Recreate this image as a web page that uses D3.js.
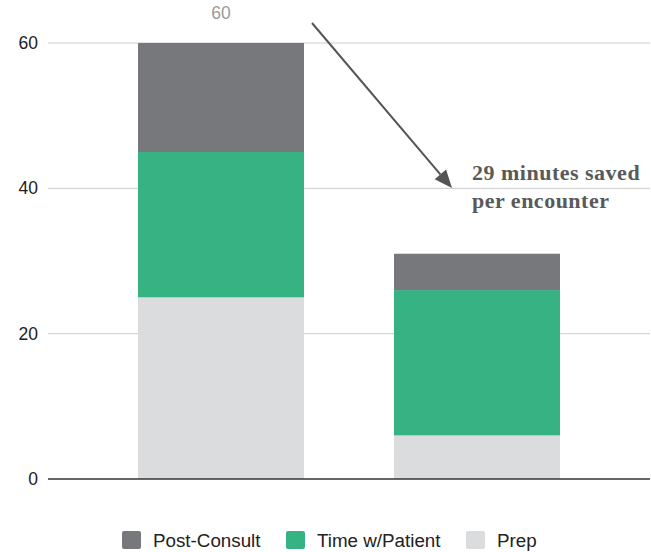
<!DOCTYPE html>
<html><head><meta charset="utf-8">
<script src="https://cdn.jsdelivr.net/npm/d3@7"></script>
<style>body{margin:0;background:#fff}svg{display:block}</style>
</head><body>
<svg id="c" width="651" height="552"></svg>
<script>
const categories = ["Before", "After"];
const seriesNames = ["Prep", "Time w/Patient", "Post-Consult"];
const prep = [25, 6];
const timeWithPatient = [20, 20];
const postConsult = [15, 5];
const yTicks = [0, 20, 40, 60];
const totalLabel = ["60", ""];
const legendOrder = ["Post-Consult", "Time w/Patient", "Prep"];
const annotation = ["29 minutes saved", "per encounter"];

(function(){
const colors = {"Prep": "#dbdcde", "Time w/Patient": "#37b283", "Post-Consult": "#77787b"};

const svg = d3.select("#c");
const mLeft = 48, mRight = 650, mTop = 43, mBottom = 479;

const x = d3.scaleBand().domain(categories).range([mLeft, mRight]).paddingInner(0.3516).paddingOuter(0.3516);
const y = d3.scaleLinear().domain([0, 60]).range([mBottom, mTop]);

const rows = categories.map((c, i) => ({cat: c, "Prep": prep[i], "Time w/Patient": timeWithPatient[i], "Post-Consult": postConsult[i]}));
const stacked = d3.stack().keys(seriesNames)(rows);

// gridlines
svg.append("g").selectAll("line").data(yTicks.filter(t => t !== 0)).join("line")
  .attr("x1", mLeft).attr("x2", mRight).attr("y1", d => y(d)).attr("y2", d => y(d))
  .attr("stroke", "#cccccc").attr("stroke-width", 1);

// bars
stacked.forEach(layer => {
  svg.append("g").selectAll("rect").data(layer).join("rect")
    .attr("x", d => x(d.data.cat)).attr("width", x.bandwidth())
    .attr("y", d => y(d[1])).attr("height", d => y(d[0]) - y(d[1]))
    .attr("fill", colors[layer.key]);
});

// baseline
svg.append("line").attr("x1", mLeft).attr("x2", mRight).attr("y1", y(0)).attr("y2", y(0))
  .attr("stroke", "#333").attr("stroke-width", 1.5);

// y tick labels
svg.append("g").selectAll("text").data(yTicks).join("text")
  .attr("x", 38).attr("y", d => y(d)).attr("dy", "0.35em")
  .attr("text-anchor", "end").attr("font-family", "Liberation Sans, Arial, sans-serif")
  .attr("font-size", 17.5).attr("fill", "#222").text(d => d);

// total labels
svg.append("g").selectAll("text").data(rows).join("text")
  .attr("x", d => x(d.cat) + x.bandwidth() / 2).attr("y", 19)
  .attr("text-anchor", "middle").attr("font-family", "Liberation Sans, Arial, sans-serif")
  .attr("font-size", 17.5).attr("fill", "#999").text((d, i) => totalLabel[i]);

// arrow
const ax1 = 312, ay1 = 23, tx = 452, ty = 188;
const ang = Math.atan2(ty - ay1, tx - ax1);
const L = 18, W = 7.5;
const bx = tx - L * Math.cos(ang), by = ty - L * Math.sin(ang);
svg.append("line").attr("x1", ax1).attr("y1", ay1).attr("x2", bx).attr("y2", by)
  .attr("stroke", "#555").attr("stroke-width", 2);
const px = -Math.sin(ang) * W, py = Math.cos(ang) * W;
svg.append("path").attr("d", `M${tx},${ty} L${bx + px},${by + py} L${bx - px},${by - py} Z`).attr("fill", "#555");

// annotation
svg.append("g").selectAll("text").data(annotation).join("text")
  .attr("x", 472).attr("y", (d, i) => 180 + i * 28)
  .attr("font-family", "Liberation Serif, serif").attr("font-weight", "bold")
  .attr("font-size", 22).attr("letter-spacing", 0.5).attr("fill", "#595959").text(d => d);

// legend
const legendX = [122, 286, 466];
const lg = svg.append("g").selectAll("g").data(legendOrder).join("g")
  .attr("transform", (d, i) => `translate(${legendX[i]},531)`);
lg.append("rect").attr("width", 19).attr("height", 18).attr("rx", 2).attr("fill", d => colors[d]);
lg.append("text").attr("x", 31).attr("y", 9).attr("dy", "0.35em")
  .attr("font-family", "Liberation Sans, Arial, sans-serif").attr("font-size", 18.8)
  .attr("fill", "#222").text(d => d);
})();
</script>
</body></html>
